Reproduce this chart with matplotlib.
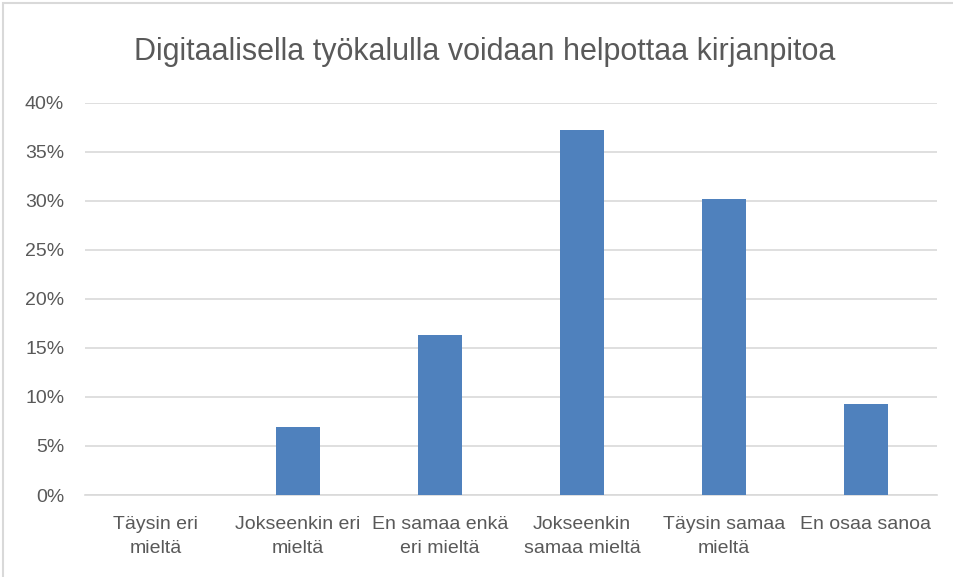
import matplotlib.pyplot as plt
from matplotlib.patches import Rectangle
from matplotlib.ticker import FuncFormatter

# kategoriat ja osuudet (%)
categories = ['Täysin eri\nmieltä', 'Jokseenkin eri\nmieltä', 'En samaa enkä\neri mieltä',
              'Jokseenkin\nsamaa mieltä', 'Täysin samaa\nmieltä', 'En osaa sanoa']
values = [0.0, 6.98, 16.28, 37.21, 30.23, 9.30]
title = 'Digitaalisella työkalulla voidaan helpottaa kirjanpitoa'

plt.rcParams['font.family'] = ['Liberation Sans Narrow', 'Liberation Sans', 'DejaVu Sans']
txt = '#595959'

fig = plt.figure(figsize=(9.54, 5.77), dpi=100)
ax = fig.add_axes([85/954, 1 - 495/577, 852/954, 392/577])

x = range(len(categories))
ax.bar(x, values, width=0.31, color='#4F81BD', zorder=3)

ax.set_xlim(-0.5, len(categories) - 0.5)
ax.set_ylim(0, 40)
ax.set_yticks(range(0, 41, 5))
ax.yaxis.set_major_formatter(FuncFormatter(lambda v, p: '%d%%' % v))
ax.set_xticks(list(x))
ax.set_xticklabels(categories, linespacing=1.55)
ax.grid(axis='y', color='#D9D9D9', linewidth=1.2, zorder=0)
for s in ['top', 'right', 'left']:
    ax.spines[s].set_visible(False)
ax.spines['bottom'].set_color('#D9D9D9')
ax.spines['bottom'].set_linewidth(1.2)
ax.tick_params(axis='both', length=0, colors=txt, labelsize=14)
ax.tick_params(axis='x', pad=15)
ax.tick_params(axis='y', pad=15)

fig.text(485/954, 1 - 52/577, title, ha='center', va='center', fontsize=22, color=txt)

# kaavion reunus
fig.patches.append(Rectangle((3/954, -0.01), 1.2, 1 - 3/577 + 0.01, transform=fig.transFigure,
                             fill=False, edgecolor='#D9D9D9', linewidth=1.5))

fig.savefig('out.png', dpi=100)
